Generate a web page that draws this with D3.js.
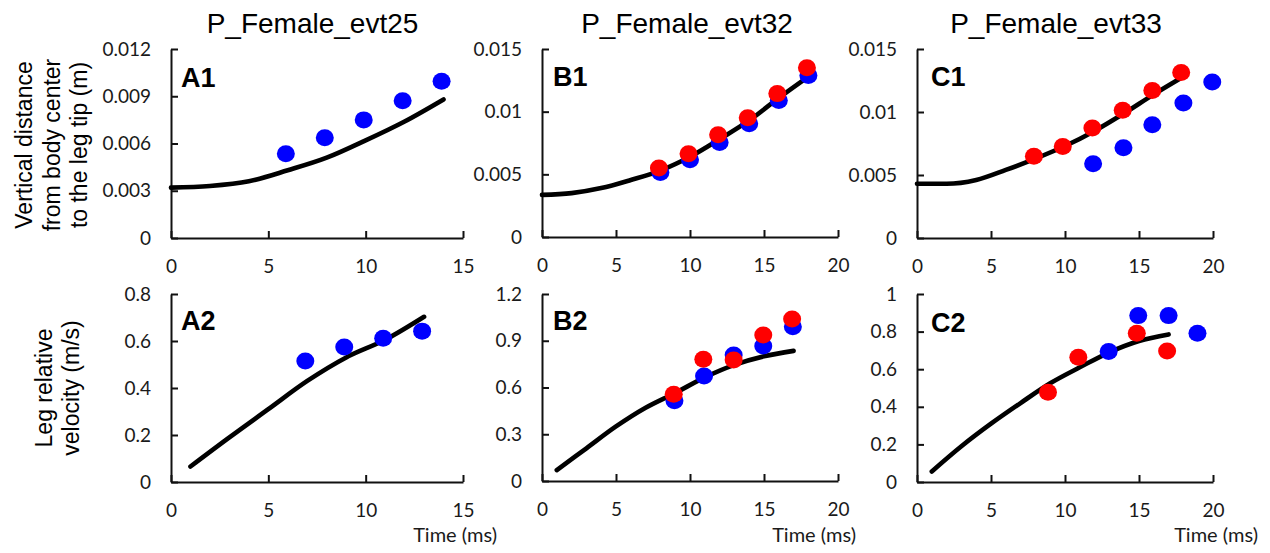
<!DOCTYPE html>
<html><head><meta charset="utf-8">
<script src="https://cdn.jsdelivr.net/npm/d3@7"></script>
<style>body{margin:0;background:#fff}</style>
</head><body><svg id="c" width="1270" height="553"></svg>
<script>
// ---------- data ----------
const titles = ["P_Female_evt25", "P_Female_evt32", "P_Female_evt33"];
const panelLabels = ["A1", "B1", "C1", "A2", "B2", "C2"];
const yTitleTop = ["Vertical distance", "from body center", "to the leg tip (m)"];
const yTitleBottom = ["Leg relative", "velocity (m/s)"];
const xTitle = "Time (ms)";

const xTicksA = [0, 5, 10, 15];
const xTicksBC = [0, 5, 10, 15, 20];
const yTicksA1 = [0, 0.003, 0.006, 0.009, 0.012];
const yTickLabelsA1 = ["0", "0.003", "0.006", "0.009", "0.012"];
const yTicksBC1 = [0, 0.005, 0.01, 0.015];
const yTickLabelsBC1 = ["0", "0.005", "0.01", "0.015"];
const yTicksA2 = [0, 0.2, 0.4, 0.6, 0.8];
const yTickLabelsA2 = ["0", "0.2", "0.4", "0.6", "0.8"];
const yTicksB2 = [0, 0.3, 0.6, 0.9, 1.2];
const yTickLabelsB2 = ["0", "0.3", "0.6", "0.9", "1.2"];
const yTicksC2 = [0, 0.2, 0.4, 0.6, 0.8, 1];
const yTickLabelsC2 = ["0", "0.2", "0.4", "0.6", "0.8", "1"];

// A1
const a1LineT = [0, 2, 4, 6, 8, 10, 12, 14];
const a1LineV = [0.0032, 0.0033, 0.0036, 0.0043, 0.0051, 0.0062, 0.0074, 0.0088];
const a1BlueT = [5.9, 7.9, 9.9, 11.9, 13.9];
const a1BlueV = [0.00535, 0.00636, 0.0075, 0.00872, 0.00995];
const a1RedT = [];
const a1RedV = [];
// B1
const b1LineT = [0, 2, 4, 6, 8, 10, 12, 14, 16, 18];
const b1LineV = [0.00336, 0.0035, 0.0039, 0.00455, 0.0053, 0.0064, 0.0078, 0.0093, 0.0111, 0.0128];
const b1BlueT = [8, 10, 12, 14, 16, 18];
const b1BlueV = [0.00514, 0.00616, 0.00754, 0.00904, 0.0109, 0.01288];
const b1RedT = [7.9, 9.9, 11.9, 13.9, 15.9, 17.9];
const b1RedV = [0.0055, 0.00664, 0.00816, 0.00952, 0.01144, 0.0135];
// C1
const c1LineT = [0, 2, 4, 6, 8, 10, 12, 14, 16, 17.7];
const c1LineV = [0.0043, 0.0043, 0.0046, 0.0054, 0.0063, 0.0073, 0.0085, 0.0099, 0.0114, 0.0126];
const c1BlueT = [11.9, 13.95, 15.9, 18, 19.95];
const c1BlueV = [0.0059, 0.00717, 0.00899, 0.01071, 0.01238];
const c1RedT = [7.9, 9.85, 11.85, 13.9, 15.9, 17.85];
const c1RedV = [0.00648, 0.00727, 0.00873, 0.01013, 0.01171, 0.01314];
// A2
const a2LineT = [1, 3, 5, 7, 9, 11, 13];
const a2LineV = [0.066, 0.19, 0.31, 0.43, 0.53, 0.605, 0.703];
const a2BlueT = [6.9, 8.9, 10.9, 12.9];
const a2BlueV = [0.515, 0.574, 0.612, 0.642];
const a2RedT = [];
const a2RedV = [];
// B2
const b2LineT = [1, 3, 5, 7, 9, 11, 13, 15, 17];
const b2LineV = [0.07, 0.21, 0.35, 0.47, 0.565, 0.665, 0.745, 0.80, 0.835];
const b2BlueT = [8.95, 10.95, 12.95, 14.95, 16.95];
const b2BlueV = [0.515, 0.674, 0.809, 0.866, 0.99];
const b2RedT = [8.9, 10.9, 12.95, 14.95, 16.9];
const b2RedV = [0.556, 0.781, 0.776, 0.937, 1.04];
// C2
const c2LineT = [1, 3, 5, 7, 9, 11, 13, 15, 17];
const c2LineV = [0.056, 0.19, 0.31, 0.42, 0.525, 0.61, 0.69, 0.75, 0.785];
const c2BlueT = [12.95, 14.95, 17, 18.95];
const c2BlueV = [0.694, 0.885, 0.885, 0.791];
const c2RedT = [8.85, 10.9, 14.85, 16.9];
const c2RedV = [0.478, 0.664, 0.791, 0.697];

// ---------- layout ----------
const svg = d3.select("#c");
const tickFont = "Lato, 'Open Sans', sans-serif";
const arial = "'Liberation Sans', Arial, sans-serif";

const panels = [
  {x0:171, x1:463, y0:238, y1:49, xmax:15, ymax:0.012, xt:xTicksA, yt:yTicksA1, yl:yTickLabelsA1,
   lt:a1LineT, lv:a1LineV, bt:a1BlueT, bv:a1BlueV, rt:a1RedT, rv:a1RedV, lab:0, lx:10, ly:87},
  {x0:542, x1:838, y0:237, y1:49, xmax:20, ymax:0.015, xt:xTicksBC, yt:yTicksBC1, yl:yTickLabelsBC1,
   lt:b1LineT, lv:b1LineV, bt:b1BlueT, bv:b1BlueV, rt:b1RedT, rv:b1RedV, lab:1, lx:11, ly:86},
  {x0:917, x1:1213, y0:238, y1:49, xmax:20, ymax:0.015, xt:xTicksBC, yt:yTicksBC1, yl:yTickLabelsBC1,
   lt:c1LineT, lv:c1LineV, bt:c1BlueT, bv:c1BlueV, rt:c1RedT, rv:c1RedV, lab:2, lx:14, ly:86},
  {x0:171, x1:463, y0:482, y1:294, xmax:15, ymax:0.8, xt:xTicksA, yt:yTicksA2, yl:yTickLabelsA2,
   lt:a2LineT, lv:a2LineV, bt:a2BlueT, bv:a2BlueV, rt:a2RedT, rv:a2RedV, lab:3, lx:10, ly:330},
  {x0:542, x1:838, y0:481, y1:294, xmax:20, ymax:1.2, xt:xTicksBC, yt:yTicksB2, yl:yTickLabelsB2,
   lt:b2LineT, lv:b2LineV, bt:b2BlueT, bv:b2BlueV, rt:b2RedT, rv:b2RedV, lab:4, lx:11, ly:330},
  {x0:917, x1:1213, y0:482, y1:294, xmax:20, ymax:1.0, xt:xTicksBC, yt:yTicksC2, yl:yTickLabelsC2,
   lt:c2LineT, lv:c2LineV, bt:c2BlueT, bv:c2BlueV, rt:c2RedT, rv:c2RedV, lab:5, lx:14, ly:332},
];

panels.forEach(p => {
  const x = d3.scaleLinear().domain([0, p.xmax]).range([p.x0, p.x1]);
  const y = d3.scaleLinear().domain([0, p.ymax]).range([p.y0, p.y1]);
  const g = svg.append("g");

  const xa = g.append("g").attr("transform", `translate(0,${p.y0})`)
    .call(d3.axisBottom(x).tickValues(p.xt).tickFormat(d3.format("d"))
      .tickSizeInner(-7).tickSizeOuter(0).tickPadding(22));
  const ya = g.append("g").attr("transform", `translate(${p.x0},0)`)
    .call(d3.axisLeft(y).tickValues(p.yt).tickFormat((d, i) => p.yl[i])
      .tickSizeInner(-7).tickSizeOuter(0).tickPadding(20));
  [xa, ya].forEach(a => {
    a.select(".domain").attr("stroke", "#111").attr("stroke-width", 2);
    a.selectAll(".tick line").attr("stroke", "#111").attr("stroke-width", 2);
    a.selectAll(".tick text").attr("font-family", tickFont).attr("font-size", 19).attr("fill", "#1a1a1a");
  });

  const pts = p.lt.map((t, i) => [t, p.lv[i]]);
  g.append("path").attr("d", d3.line().x(d => x(d[0])).y(d => y(d[1])).curve(d3.curveMonotoneX)(pts))
    .attr("fill", "none").attr("stroke", "#000").attr("stroke-width", 4.6)
    .attr("stroke-linecap", "round").attr("stroke-linejoin", "round");

  g.selectAll(".blue").data(p.bt.map((t, i) => [t, p.bv[i]])).enter().append("ellipse")
    .attr("cx", d => x(d[0])).attr("cy", d => y(d[1])).attr("rx", 9).attr("ry", 8.5).attr("fill", "#0000ff");
  g.selectAll(".red").data(p.rt.map((t, i) => [t, p.rv[i]])).enter().append("ellipse")
    .attr("cx", d => x(d[0])).attr("cy", d => y(d[1])).attr("rx", 9).attr("ry", 8.5).attr("fill", "#ff0000");

  g.append("text").attr("x", p.x0 + p.lx).attr("y", p.ly).text(panelLabels[p.lab])
    .attr("font-family", arial).attr("font-weight", "bold").attr("font-size", 27).attr("fill", "#000");
});

// column titles
const titleX = [312.5, 687, 1056];
titles.forEach((t, i) => {
  svg.append("text").attr("x", titleX[i]).attr("y", 33).attr("text-anchor", "middle")
    .attr("font-family", arial).attr("font-size", 28).attr("fill", "#000").text(t);
});

// y titles
const topBase = [32, 59.5, 87];
yTitleTop.forEach((t, i) => {
  svg.append("text").attr("transform", `translate(${topBase[i]},145) rotate(-90)`)
    .attr("text-anchor", "middle").attr("font-family", arial).attr("font-size", 23).attr("fill", "#000").text(t);
});
const botBase = [52, 79];
yTitleBottom.forEach((t, i) => {
  svg.append("text").attr("transform", `translate(${botBase[i]},388) rotate(-90)`)
    .attr("text-anchor", "middle").attr("font-family", arial).attr("font-size", 23).attr("fill", "#000").text(t);
});

// x titles
const xTitleRight = [497, 856, 1258];
xTitleRight.forEach(r => {
  svg.append("text").attr("x", r).attr("y", 542).attr("text-anchor", "end")
    .attr("font-family", tickFont).attr("font-size", 20).attr("fill", "#1a1a1a").text(xTitle);
});
</script>
</body></html>
